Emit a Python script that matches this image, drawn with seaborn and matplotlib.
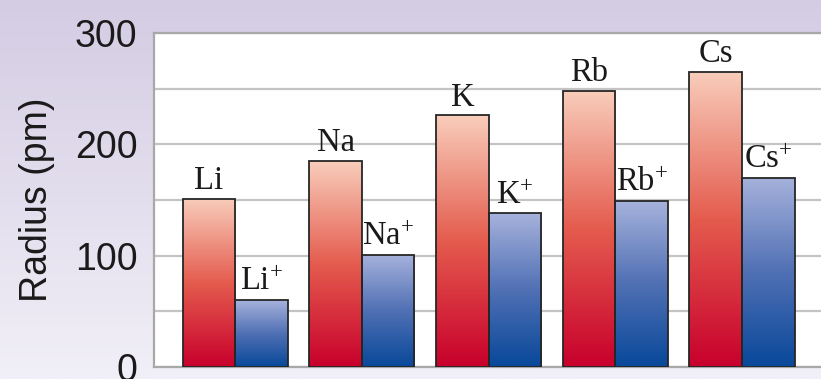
import numpy as np
import pandas as pd
import seaborn as sns
import matplotlib.pyplot as plt
from matplotlib.colors import LinearSegmentedColormap

# values (pm)
elements = ["Li", "Na", "K", "Rb", "Cs"]
atom_radius = [151, 185, 226, 248, 265]
ion_radius = [60, 101, 138, 149, 170]
atom_labels = ["Li", "Na", "K", "Rb", "Cs"]
ion_labels = ["Li$^{+}$", "Na$^{+}$", "K$^{+}$", "Rb$^{+}$", "Cs$^{+}$"]
yticks = [0, 100, 200, 300]

df = pd.DataFrame({
    "element": elements * 2,
    "radius": atom_radius + ion_radius,
    "kind": ["atom"] * 5 + ["ion"] * 5,
})

sns.set_style("white")
plt.rcParams["mathtext.fontset"] = "custom"
plt.rcParams["mathtext.rm"] = "Liberation Serif"
plt.rcParams["mathtext.it"] = "Liberation Serif"

fig = plt.figure(figsize=(8.21, 3.79), dpi=100)

# lavender background gradient
bg = fig.add_axes([0, 0, 1, 1], zorder=-10)
bg_cmap = LinearSegmentedColormap.from_list("bg", ["#d4cce3", "#f1eff7"])
bg.imshow(np.linspace(0, 1, 256).reshape(-1, 1), aspect="auto", cmap=bg_cmap,
          extent=[0, 1, 0, 1])
bg.set_axis_off()

ax = fig.add_axes([0.1876, 0.0317, 0.812, 0.8813])
sns.barplot(data=df, x="element", y="radius", hue="kind",
            palette={"atom": "#e06050", "ion": "#4a6ab0"},
            width=0.83, edgecolor="#262626", linewidth=1.3,
            legend=False, ax=ax, zorder=3)

red_cmap = LinearSegmentedColormap.from_list("red", ["#c8002c", "#e45c4e", "#f9cdbb"])
blue_cmap = LinearSegmentedColormap.from_list("blue", ["#08489a", "#5070b4", "#a6b2dc"])
grad = np.linspace(0, 1, 256).reshape(-1, 1)
for cont, cmap in zip(ax.containers, [red_cmap, blue_cmap]):
    for bar in cont:
        x0, w, h = bar.get_x(), bar.get_width(), bar.get_height()
        im = ax.imshow(grad, origin="lower", aspect="auto", cmap=cmap,
                       extent=[x0, x0 + w, 0, h], zorder=3.5)
        im.set_clip_path(bar)
        bar.set_facecolor("none")
        bar.set_zorder(4)

ax.bar_label(ax.containers[0], labels=atom_labels, padding=2,
             fontsize=23.5, family="Liberation Serif", color="#1a1a1a")
ax.bar_label(ax.containers[1], labels=ion_labels, padding=2,
             fontsize=23.5, family="Liberation Serif", color="#1a1a1a")

ax.set_xlim(-0.64, 4.62)
ax.set_ylim(0, 300)
ax.set_yticks(yticks)
ax.set_yticks(np.arange(50, 300, 100), minor=True)
ax.grid(axis="y", which="both", color="#c4c4c4", linewidth=1.6, zorder=0)
ax.set_axisbelow(True)
ax.set_xticks([])
ax.set_xlabel("")
ax.tick_params(axis="y", which="both", length=0, pad=12,
               labelsize=27, labelfontfamily="Liberation Sans", labelcolor="#1a1a1a")
ax.set_ylabel("Radius (pm)", fontsize=27, family="Liberation Sans",
              color="#1a1a1a", labelpad=14)
for side in ["left", "bottom", "top"]:
    ax.spines[side].set_color("#a8a8a8")
    ax.spines[side].set_linewidth(1.6)
ax.spines["right"].set_visible(False)
ax.set_facecolor("white")

fig.savefig("out.png", dpi=100)
